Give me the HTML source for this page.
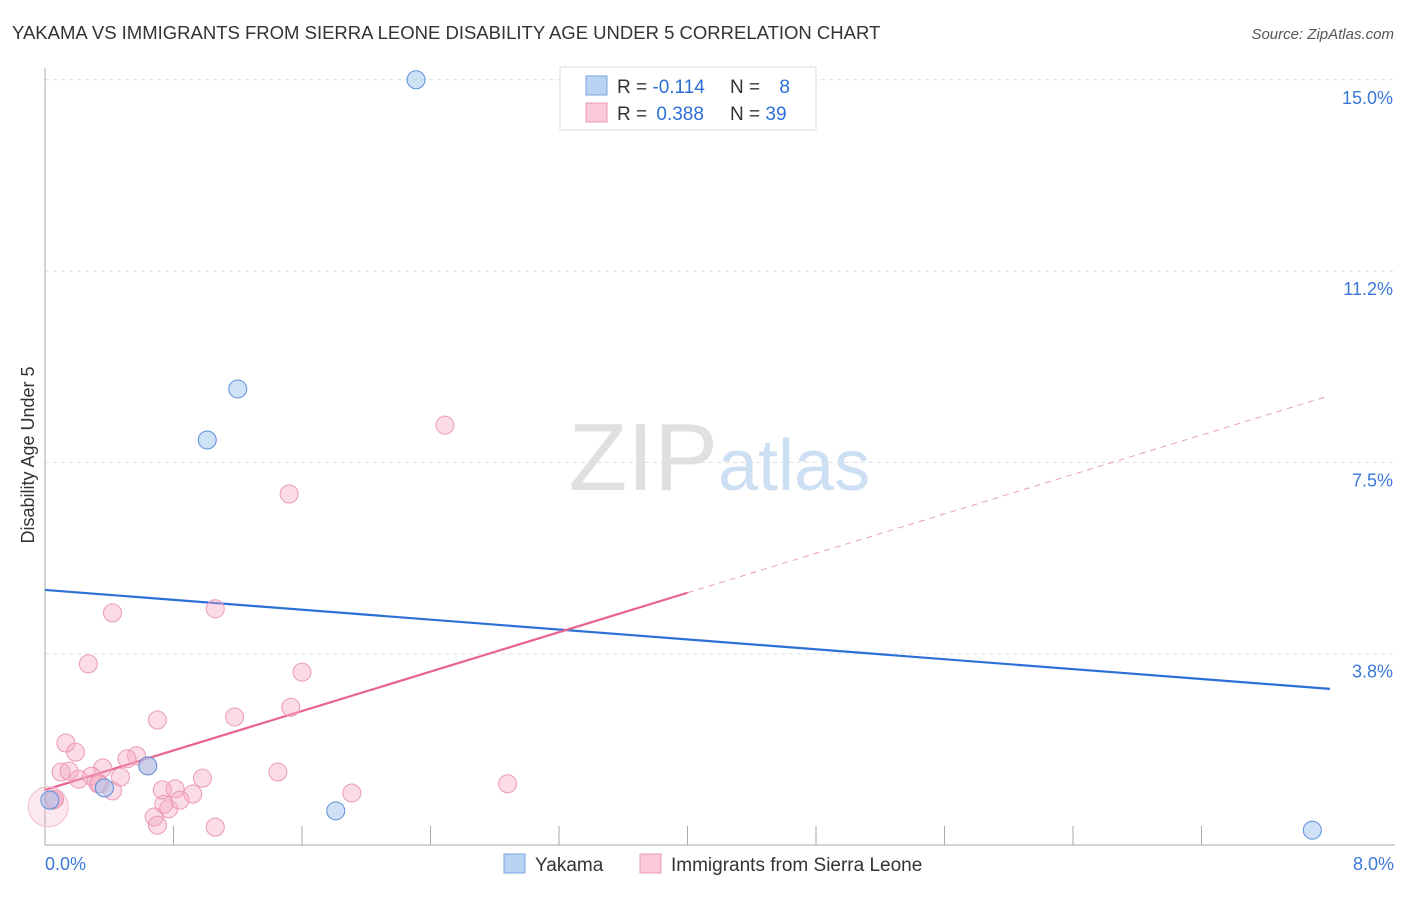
<!DOCTYPE html>
<html><head><meta charset="utf-8"><style>
body{margin:0;background:#fff;font-family:"Liberation Sans",sans-serif;}
svg text{font-family:"Liberation Sans",sans-serif;}
</style></head><body>
<svg width="1406" height="892" viewBox="0 0 1406 892">
<text x="12" y="39" font-size="18.5" fill="#333">YAKAMA VS IMMIGRANTS FROM SIERRA LEONE DISABILITY AGE UNDER 5 CORRELATION CHART</text>
<text x="1394" y="39" font-size="15" fill="#555" font-style="italic" text-anchor="end">Source: ZipAtlas.com</text>
<text x="34" y="455" font-size="18" fill="#333" text-anchor="middle" transform="rotate(-90 34 455)">Disability Age Under 5</text>
<g id="grid"></g>
<g id="axes"></g>
<text x="718" y="490" font-size="96" fill="#e0e0e0" text-anchor="end" font-family="Liberation Serif">ZIP</text>
<text x="718" y="490" font-size="72" fill="#cddff3">atlas</text>
<g id="lines"></g>
<g id="pts"></g>
<g>
<rect x="560" y="67" width="256" height="63" fill="#fff" stroke="#ddd"/>
<rect x="586" y="76" width="21" height="19" fill="#b9d3f3" stroke="#7aa6e0"/>
<rect x="586" y="103" width="21" height="19" fill="#f9c9d8" stroke="#eb9ab4"/>
<text x="617" y="93" font-size="19" fill="#333">R = <tspan fill="#2c6fd6">-0.114</tspan></text>
<text x="730" y="93" font-size="19" fill="#333">N = <tspan fill="#2c6fd6" dx="14">8</tspan></text>
<text x="617" y="120" font-size="19" fill="#333">R = <tspan fill="#2c6fd6" dx="4">0.388</tspan></text>
<text x="730" y="120" font-size="19" fill="#333">N = <tspan fill="#2c6fd6">39</tspan></text>
</g>
<g>
<rect x="504" y="854" width="21" height="19" fill="#b9d3f3" stroke="#7aa6e0"/>
<text x="535" y="871" font-size="19" fill="#333">Yakama</text>
<rect x="640" y="854" width="21" height="19" fill="#f9c9d8" stroke="#eb9ab4"/>
<text x="671" y="871" font-size="19" fill="#333">Immigrants from Sierra Leone</text>
</g>
</svg>
<script>
const yTicks=[3.75,7.5,11.25,15];
const yTickLabels=["3.8%","7.5%","11.2%","15.0%"];
const xTickLabels=["0.0%","8.0%"];
const blueX=[2.31,1.20,1.01,0.64,0.37,1.81,7.89,0.03];
const blueY=[15.0,8.94,7.94,1.55,1.12,0.67,0.29,0.88];
const pinkX=[0.42,1.06,0.27,1.60,1.53,1.18,0.70,0.13,0.19,0.57,0.51,0.10,0.15,0.36,0.47,0.29,0.34,0.21,0.33,0.42,0.68,0.70,0.74,0.77,0.81,0.73,0.98,1.06,1.45,1.91,2.88,1.52,2.49,0.05,0.02,0.06,0.92,0.84,0.64];
const pinkY=[4.55,4.63,3.55,3.39,2.70,2.51,2.45,2.00,1.82,1.75,1.69,1.43,1.45,1.51,1.33,1.35,1.20,1.29,1.20,1.06,0.55,0.39,0.80,0.71,1.10,1.08,1.31,0.35,1.43,1.02,1.20,6.88,8.23,0.88,0.75,0.90,1.00,0.88,1.55];
const pinkR=Array(39).fill(9);pinkR[34]=20;
const blueTrend=[5.0,3.06];
const pinkTrend=[1.08,8.81];
const pinkSolidEnd=4.0;
const NS="http://www.w3.org/2000/svg";
const X0=45,X1=1330,Y0=845,PXY=191.3/3.75;
const sx=v=>X0+(v/8)*(X1-X0);
const sy=v=>Y0-v*PXY;
function mk(t,a,p){const e=document.createElementNS(NS,t);for(const k in a)e.setAttribute(k,a[k]);p.appendChild(e);return e;}
const grid=document.getElementById('grid'),axes=document.getElementById('axes');
yTicks.forEach((t,i)=>{
 const l=mk('line',{x1:X0,x2:1395,y1:sy(t),y2:sy(t),stroke:'#ddd','stroke-dasharray':'4,4'},grid);
 
 
 const tx=mk('text',{x:1393,y:sy(t)+24,'font-size':18,fill:'#3b78d8','text-anchor':'end'},axes);
 tx.textContent=yTickLabels[i];
 
 
});
mk('line',{x1:X0,x2:X0,y1:68,y2:Y0,stroke:'#aaa'},axes);
mk('line',{x1:X0,x2:1395,y1:Y0,y2:Y0,stroke:'#aaa'},axes);
for(let i=1;i<=9;i++){const t=mk('line',{x1:X0+i*128.5,x2:X0+i*128.5,y1:826,y2:Y0,stroke:'#aaa'},axes);}
[[0,'start',X0],[8,'end',1394]].forEach((d,i)=>{const t=mk('text',{x:d[2],y:870,'font-size':18,fill:'#3b78d8','text-anchor':d[1]},axes);t.textContent=xTickLabels[i];});
const lines=document.getElementById('lines');
const bl=mk('line',{x1:sx(0),y1:sy(blueTrend[0]),x2:sx(8),y2:sy(blueTrend[1]),stroke:'#2c6fd6','stroke-width':2.2},lines);


const py=x=>pinkTrend[0]+(pinkTrend[1]-pinkTrend[0])*x/8;
const ps=mk('line',{x1:sx(0),y1:sy(py(0)),x2:sx(pinkSolidEnd),y2:sy(py(pinkSolidEnd)),stroke:'#e8638e','stroke-width':2.2},lines);


const pd=mk('line',{x1:sx(pinkSolidEnd),y1:sy(py(pinkSolidEnd)),x2:sx(7.97),y2:sy(py(7.97)),stroke:'#e8a0b8','stroke-width':1,'stroke-dasharray':'6,5'},lines);


const pts=document.getElementById('pts');
pinkX.forEach((x,i)=>{const big=pinkR[i]>12;const c=mk('circle',{cx:sx(x),cy:sy(pinkY[i]),r:pinkR[i],fill:big?'rgba(244,167,192,0.25)':'rgba(244,167,192,0.4)',stroke:big?'#f2bccd':'#eb9ab4','stroke-width':1},pts);
 
 });
blueX.forEach((x,i)=>{const c=mk('circle',{cx:sx(x),cy:sy(blueY[i]),r:9,fill:'rgba(160,196,240,0.5)',stroke:'#5b8fd8','stroke-width':1},pts);
 
 });
</script>
</body></html>
